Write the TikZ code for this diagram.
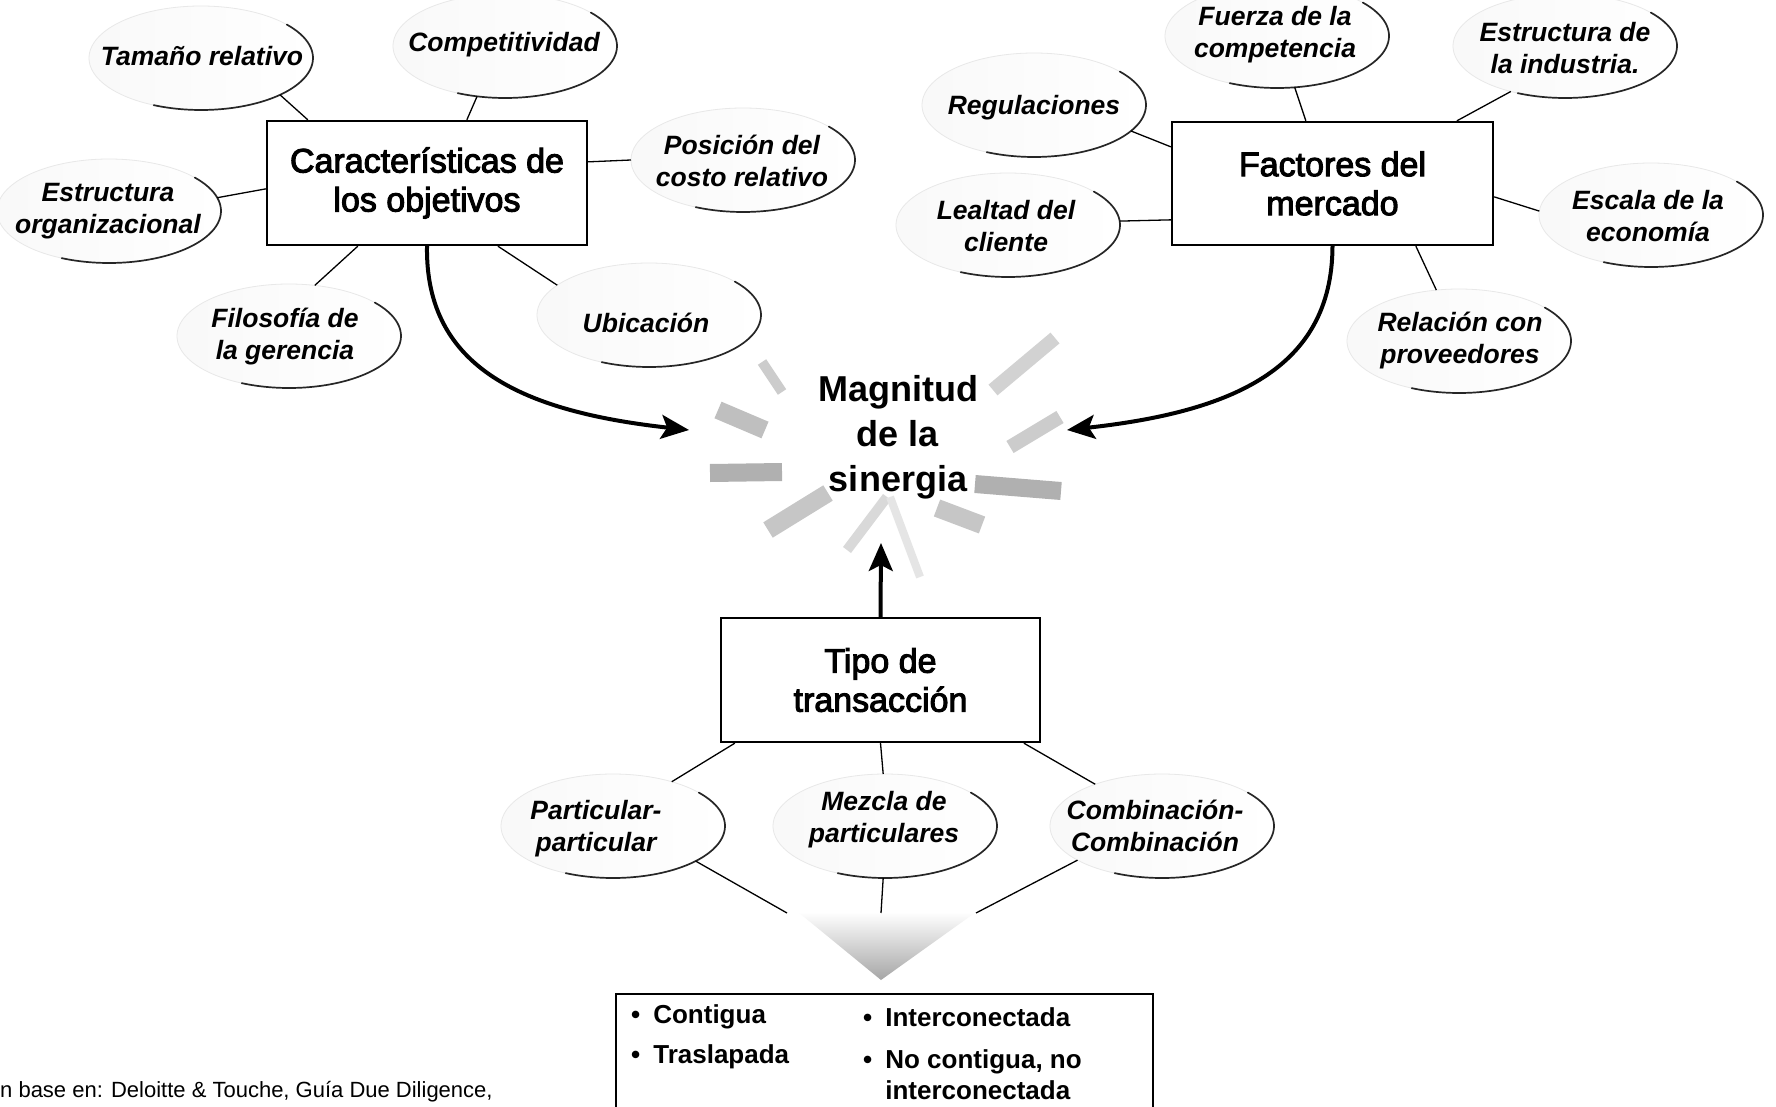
\documentclass[tikz,border=0pt]{standalone}
\usepackage{fontspec}
\setmainfont{Liberation Sans}
\newfontfamily\medfont[FakeBold=3]{Liberation Sans}
\usetikzlibrary{shapes.geometric,arrows.meta,calc}
\tikzset{
 bub/.style={ellipse, minimum width=224pt, minimum height=104pt, inner sep=0pt, outer sep=0pt, left color=gray!5, right color=white, draw=none},
 bubtext/.style={font=\fontsize{26.5}{32}\selectfont\bfseries\itshape, align=center, inner sep=0pt},
 bubdark/.style={line width=1.7pt, black!85, line cap=round},
 bubfaint/.style={line width=0.8pt, gray!18},
 boxn/.style={draw=black, line width=2.3pt, fill=white, font=\fontsize{34}{39}\medfont, align=center, inner sep=0pt},
 conn/.style={line width=1.3pt, black},
 bigarrow/.style={line width=4pt, -{Stealth[length=28pt,width=24pt,inset=6pt]}},
 ray/.style={line cap=butt},
 bul/.style={font=\fontsize{26}{31}\selectfont\bfseries, inner sep=0pt, align=left},
}
\newcommand\mkbub[6]{%
 \node[bub] (#1E) at (#2,#3) {};
 \draw[bubfaint] plot[domain=115:320,samples=40,smooth] ({#2+112*cos(\x)},{#3+52*sin(\x)});
 \draw[bubdark] plot[domain=-40:115,samples=50,smooth] ({#2+112*cos(\x)},{#3+52*sin(\x)});
 \node[bubtext] (#1) at (#4,#5) {#6};}
\begin{document}
\begin{tikzpicture}[x=1pt,y=-1pt]
\fill[white] (0,0) rectangle (1776,1107);
\useasboundingbox (0,0) rectangle (1776,1107);

% bubbles
\mkbub{tam}{201}{58}{202}{56}{Tamaño relativo}
\mkbub{com}{505}{46}{504}{45}{Competitividad}
\mkbub{pos}{743}{160}{742}{161}{Posición del\\costo relativo}
\mkbub{eor}{109}{211}{108}{211}{Estructura\\organizacional}
\mkbub{fil}{289}{336}{285}{337}{Filosofía de\\la gerencia}
\mkbub{ubi}{649}{315}{646}{323}{Ubicación}
\mkbub{fue}{1277}{36}{1275}{35}{Fuerza de la\\competencia}
\mkbub{ein}{1565}{46}{1565}{48}{Estructura de\\la industria.}
\mkbub{reg}{1034}{105}{1034}{108}{Regulaciones}
\mkbub{lea}{1008}{225}{1006}{226}{Lealtad del\\cliente}
\mkbub{esc}{1651}{215}{1648}{216}{Escala de la\\economía}
\mkbub{rel}{1459}{341}{1460}{341}{Relación con\\proveedores}
\mkbub{par}{613}{826}{596}{829}{Particular-\\particular}
\mkbub{mez}{885}{826}{884}{820}{Mezcla de\\particulares}
\mkbub{cmb}{1162}{826}{1155}{826}{Combinación-\\Combinación}

% boxes
\node[boxn, minimum width=320pt, minimum height=124pt] (cob) at (427,183) {Características de\\los objetivos};
\node[boxn, minimum width=321pt, minimum height=123pt] (fac) at (1332.5,183.5) {Factores del\\mercado};
\node[boxn, minimum width=319pt, minimum height=124pt] (tip) at (880.5,680) {Tipo de\\transacción};

% rays around Magnitud
\foreach \a/\b/\c/\d/\w/\g in {762/362/782/392/10/40, 718/410/765/430/18/50, 710/473/782/472/18/62, 768/530/828/493/18/45, 847/550/887/497/10/30, 890/497/920/577/8/20, 937/508/982/525/18/45, 975/484/1061/491/18/62, 1010/447/1060/417/14/40, 993/390/1055/338/14/35}
  \draw[ray, line width=\w pt, gray!\g] (\a,\b) -- (\c,\d);

\node[font=\fontsize{36}{45}\selectfont\bfseries, align=center, inner sep=0pt] (mag) at (898,437) {Magnitud\\de la\\sinergia};

% connectors
\draw[conn] ([xshift=42pt]cob.north west) -- (tamE.-25);
\draw[conn] ([xshift=201pt]cob.north west) -- (comE.241);
\draw[conn] ([yshift=-42pt]cob.north east) -- (posE.180);
\draw[conn] ([yshift=-69pt]cob.north west) -- (eorE.7);
\draw[conn] ([xshift=92pt]cob.south west) -- (filE.63);
\draw[conn] ([xshift=232pt]cob.south west) -- (ubiE.162);
\draw[conn] ([xshift=135pt]fac.north west) -- (fueE.-71);
\draw[conn] ([xshift=286pt]fac.north west) -- (einE.220);
\draw[conn] ([yshift=-26pt]fac.north west) -- (regE.-15);
\draw[conn] ([yshift=-99pt]fac.north west) -- (leaE.2);
\draw[conn] ([yshift=-76pt]fac.north east) -- (escE.178);
\draw[conn] ([xshift=245pt]fac.south west) -- (relE.114);
\draw[conn] ([xshift=15pt]tip.south west) -- (parE.37);
\draw[conn] (tip.south) -- (mezE.92);
\draw[conn] ([xshift=304pt]tip.south west) -- (cmbE.148);

% chevron
\shade[top color=white, bottom color=gray!70] (798,912) -- (976,912) -- (881,980) -- cycle;
\coordinate (chevtop) at (881,913);
\draw[conn] (parE.-23) -- ([xshift=-94pt]chevtop);
\draw[conn] (mezE.-92) -- (chevtop);
\draw[conn] (cmbE.-158) -- ([xshift=95pt]chevtop);

% big arrows
\coordinate (magL) at (689,430);
\coordinate (magR) at (1067,430);
\coordinate (magB) at (881,543);
\draw[bigarrow] (cob.south) .. controls (425,370) and (527,412) .. (magL);
\draw[bigarrow] (fac.south) .. controls (1332,370) and (1230,412) .. (magR);
\draw[bigarrow] (tip.north) -- (magB);

% result box
\node[draw=black, line width=2.3pt, anchor=north west, minimum width=537pt, minimum height=150pt, inner sep=0pt] (res) at (615,993) {};
\node[bul, anchor=west] (b1) at (631,1017) {\textbullet\hspace{0.5em}Contigua};
\node[bul, anchor=west] (b2) at (863,1017) {\textbullet\hspace{0.5em}Interconectada};
\node[bul, anchor=west] (b3) at (631,1057) {\textbullet\hspace{0.5em}Traslapada};
\node[bul, anchor=west] (b4) at (863,1075) {\textbullet\hspace{0.5em}No contigua, no\\\hphantom{\textbullet\hspace{0.5em}}interconectada};

% source note
\node[anchor=west, inner sep=0pt, font=\fontsize{22}{26}\selectfont] (src) at (0,1092) {n base en: Deloitte \& Touche, Guía Due Diligence,};
\end{tikzpicture}
\end{document}
